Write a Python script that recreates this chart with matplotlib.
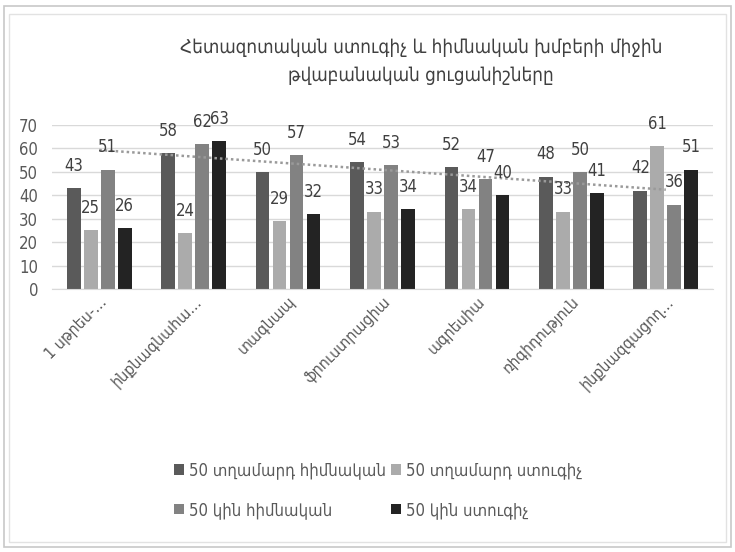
import numpy as np
import matplotlib
matplotlib.use("Agg")
from matplotlib import pyplot as plt
from matplotlib.patches import Rectangle

plt.rcParams['font.family'] = ['DejaVu Sans']
plt.rcParams['font.stretch'] = 'condensed'

title = "Հետազոտական ստուգիչ և հիմնական խմբերի միջին\nթվաբանական ցուցանիշները"
categories = ["1 սթրես-…", "ինքնագնահա…", "տագնապ", "ֆրուստրացիա",
              "ագրեսիա", "ռիգիդություն", "ինքնազգացող…"]
series_names = ["50 տղամարդ հիմնական", "50 տղամարդ ստուգիչ",
                "50 կին հիմնական", "50 կին ստուգիչ"]
men_main = [43, 58, 50, 54, 52, 48, 42]
men_ctrl = [25, 24, 29, 33, 34, 33, 61]
women_main = [51, 62, 57, 53, 47, 50, 36]
women_ctrl = [26, 63, 32, 34, 40, 41, 51]
colors = ["#5a5a5a", "#ababab", "#828282", "#232323"]

fig = plt.figure(figsize=(7.35, 5.52), dpi=100)
ax = fig.add_axes([52 / 735, 1 - 289 / 552, 661 / 735, 164 / 552])

x = np.arange(len(categories))
slot = 0.18
width = 0.145
all_series = [men_main, men_ctrl, women_main, women_ctrl]
handles = []
for i, vals in enumerate(all_series):
    pos = x + (i - 1.5) * slot
    h = ax.bar(pos, vals, width, color=colors[i], label=series_names[i], zorder=2)
    handles.append(h)
    for p, v in zip(pos, vals):
        ax.annotate(str(v), (p, v), xytext=(0, 16), textcoords="offset points",
                    ha="center", va="center", fontsize=12, color="#404040", zorder=4)

# linear trendline of women_main
k, b = np.polyfit(x, women_main, 1)
ax.plot(x, k * x + b, linestyle=(0, (1, 1.2)), color="#9a9a9a", linewidth=1.8, zorder=3)

ax.set_xlim(-0.5, len(categories) - 0.5)
ax.set_ylim(0, 70)
ax.set_yticks(range(0, 71, 10))
ax.yaxis.grid(True, color="#d9d9d9", linewidth=1, zorder=0)
ax.set_axisbelow(True)
for s in ["top", "right", "left"]:
    ax.spines[s].set_visible(False)
ax.spines["bottom"].set_color("#d9d9d9")
ax.tick_params(axis="both", length=0, labelsize=12, labelcolor="#595959")
ax.tick_params(axis="y", pad=10)
ax.set_xticks(x)
ax.set_xticklabels(categories, rotation=45, ha="right", va="top",
                   rotation_mode="anchor", fontsize=11.5)

fig.text(0.573, 0.889, title, ha="center", va="center", fontsize=13.5,
         color="#404040", linespacing=1.6)

# legend rows: men first, women second
order = [0, 2, 1, 3]
fig.legend([handles[i] for i in order], [series_names[i] for i in order],
           loc="center", bbox_to_anchor=(0.515, 0.112), ncol=2, frameon=False,
           fontsize=12, handlelength=0.6, handleheight=0.6, handletextpad=0.3,
           columnspacing=0.3, labelspacing=1.3, labelcolor="#595959")

# frame around the chart
fig.patches.append(Rectangle((4 / 735, 5 / 552), 727 / 735, 541 / 552,
                             transform=fig.transFigure, facecolor="none",
                             edgecolor="#c8c8c8", linewidth=1.2))
fig.patches.append(Rectangle((9 / 735, 10 / 552), 717 / 735, 528 / 552,
                             transform=fig.transFigure, facecolor="none",
                             edgecolor="#e2e2e2", linewidth=1))

fig.savefig("out.png", dpi=100)
